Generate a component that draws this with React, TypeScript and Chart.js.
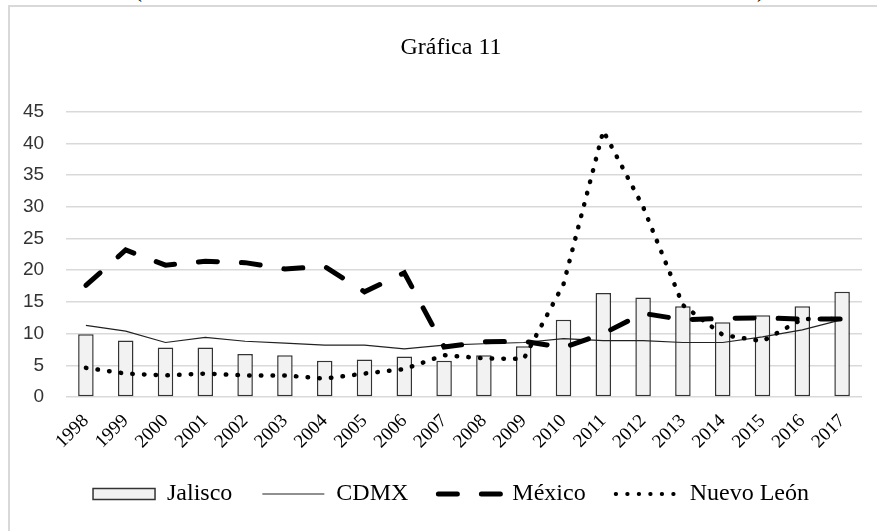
import { useEffect, useRef } from 'react';
import { Chart, registerables } from 'chart.js';

Chart.register(...registerables);

const years = ['1998', '1999', '2000', '2001', '2002', '2003', '2004', '2005', '2006', '2007',
  '2008', '2009', '2010', '2011', '2012', '2013', '2014', '2015', '2016', '2017'];

const jalisco = [9.9, 8.9, 7.8, 7.8, 6.8, 6.6, 5.7, 5.9, 6.4, 5.7, 6.6, 8.0, 12.2, 16.4, 15.7, 14.3, 11.8, 12.9, 14.3, 16.6];
const cdmx = [11.3, 10.4, 8.6, 9.4, 8.8, 8.5, 8.2, 8.2, 7.6, 8.2, 8.4, 8.6, 9.2, 8.9, 8.9, 8.6, 8.6, 9.5, 10.6, 12.2];
const mexico = [17.6, 23.2, 20.8, 21.4, 21.2, 20.2, 20.6, 16.6, 19.6, 7.9, 8.7, 8.8, 7.8, 10.0, 13.2, 12.2, 12.4, 12.5, 12.3, 12.3];
const nuevoLeon = [4.6, 3.7, 3.4, 3.7, 3.4, 3.4, 2.9, 3.7, 4.4, 6.6, 6.1, 6.0, 17.8, 42.0, 30.0, 14.5, 9.8, 8.8, 12.3, 12.3];

const yTicks = { min: 0, max: 45, step: 5 };

const SERIF = '"Liberation Serif", "Times New Roman", serif';
const SANS = '"Liberation Sans", Arial, sans-serif';

export default function App() {
  const ref = useRef<HTMLCanvasElement>(null);

  useEffect(() => {
    const legendStyles = [
      { pointStyle: 'rect', fill: '#f2f2f2', stroke: '#333333', width: 1.5, dash: [] as number[], cap: 'butt' },
      { pointStyle: 'line', fill: 'transparent', stroke: '#222222', width: 1.2, dash: [] as number[], cap: 'butt' },
      { pointStyle: 'line', fill: 'transparent', stroke: '#000000', width: 5, dash: [19, 24], cap: 'round' },
      { pointStyle: 'line', fill: 'transparent', stroke: '#000000', width: 3.8, dash: [0.5, 11], cap: 'round' },
    ];
    const chart = new Chart(ref.current!, {
      type: 'bar',
      data: {
        labels: years,
        datasets: [
          {
            type: 'bar',
            label: 'Jalisco',
            data: jalisco,
            backgroundColor: '#f2f2f2',
            borderColor: '#333333',
            borderWidth: 1.5,
            borderSkipped: false,
            barPercentage: 0.78,
            categoryPercentage: 0.5,
            order: 3,
          },
          {
            type: 'line',
            label: 'CDMX',
            data: cdmx,
            borderColor: '#222222',
            backgroundColor: 'transparent',
            borderWidth: 1.2,
            pointRadius: 0,
            tension: 0,
            fill: false,
            order: 2,
          },
          {
            type: 'line',
            label: 'México',
            data: mexico,
            borderColor: '#000000',
            backgroundColor: 'transparent',
            borderWidth: 5,
            borderDash: [19, 24],
            borderCapStyle: 'round',
            pointRadius: 0,
            tension: 0,
            fill: false,
            order: 1,
          },
          {
            type: 'line',
            label: 'Nuevo León',
            data: nuevoLeon,
            borderColor: '#000000',
            backgroundColor: 'transparent',
            borderWidth: 4.5,
            borderDash: [0.5, 11.2],
            borderCapStyle: 'round',
            pointRadius: 0,
            tension: 0,
            fill: false,
            order: 0,
          },
        ] as any,
      },
      options: {
        responsive: false,
        animation: false,
        devicePixelRatio: 1,
        layout: { padding: { left: 31, right: 15, top: 0, bottom: 0 } },
        plugins: {
          tooltip: { enabled: false },
          title: {
            display: true,
            text: 'Gráfica 11',
            color: '#000',
            font: { family: SERIF, size: 24, weight: 'normal' },
            padding: { top: 27, bottom: 50 },
          },
          legend: {
            position: 'bottom',
            labels: {
              usePointStyle: true,
              pointStyleWidth: 62,
              boxHeight: 11,
              padding: 30,
              color: '#000',
              font: { family: SERIF, size: 24 },
              generateLabels: (c: any) =>
                c.data.datasets.map((ds: any, i: number) => ({
                  text: ds.label,
                  datasetIndex: i,
                  fillStyle: legendStyles[i].fill,
                  strokeStyle: legendStyles[i].stroke,
                  lineWidth: legendStyles[i].width,
                  lineDash: legendStyles[i].dash,
                  lineCap: legendStyles[i].cap,
                  pointStyle: legendStyles[i].pointStyle,
                  hidden: false,
                  fontColor: '#000',
                })),
            },
          },
        },
        scales: {
          x: {
            grid: { display: false },
            border: { display: false },
            ticks: {
              autoSkip: false,
              maxRotation: 45,
              minRotation: 45,
              color: '#000',
              padding: 5,
              font: { family: SERIF, size: 19 },
            },
            afterFit: (s: any) => { s.height = 55; },
          },
          y: {
            min: yTicks.min,
            max: yTicks.max,
            ticks: {
              stepSize: yTicks.step,
              color: '#333',
              mirror: true,
              padding: -43,
              font: { family: SANS, size: 19 },
              callback: (v: any) => (Number(v) < 10 ? '\u2007' : '') + v,
            },
            grid: { color: '#d9d9d9', lineWidth: 1.5, drawTicks: false },
            border: { display: false },
            afterFit: (s: any) => { s.width = 26; },
          },
        },
      } as any,
    });
    return () => chart.destroy();
  }, []);

  return (
    <div style={{ position: 'absolute', left: 0, top: 0, width: 877, height: 531, overflow: 'hidden', background: '#fff' }}>
      <div style={{ position: 'absolute', left: 8, top: 5, width: 900, height: 600, borderLeft: '2px solid #d9d9d9', borderTop: '2px solid #d9d9d9' }} />
      <span style={{ position: 'absolute', left: 134, top: -23, fontFamily: SERIF, fontSize: 24, lineHeight: '24px', color: '#000' }}>(</span>
      <span style={{ position: 'absolute', left: 757, top: -23, fontFamily: SERIF, fontSize: 24, lineHeight: '24px', color: '#000' }}>)</span>
      <div style={{ position: 'absolute', left: 9, top: 6, width: 868, height: 510 }}>
        <canvas ref={ref} width={868} height={510} style={{ display: 'block' }} />
      </div>
    </div>
  );
}
